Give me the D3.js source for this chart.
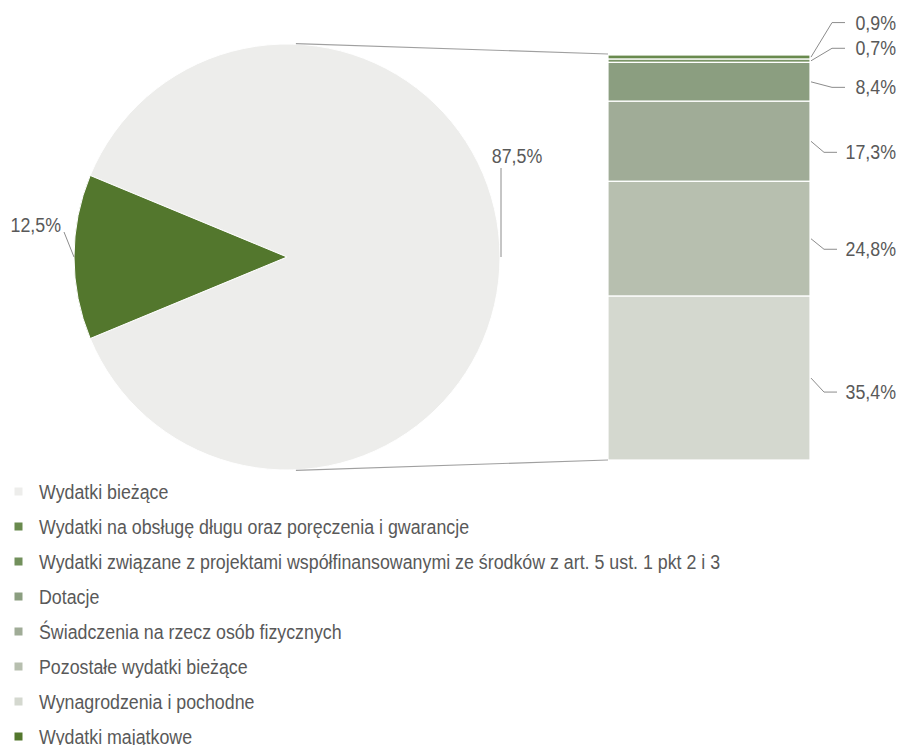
<!DOCTYPE html>
<html>
<head>
<meta charset="utf-8">
<script src="https://cdn.jsdelivr.net/npm/d3@7"></script>
<style>
  html, body { margin: 0; padding: 0; background: #ffffff; }
  svg { display: block; }
  text { font-family: "Liberation Sans", Arial, sans-serif; font-size: 20px; fill: #595959; }
</style>
</head>
<body>
<svg id="chart" width="899" height="745"></svg>
<script>
// Main pie: share of total spending
const pieCategories = ["Wydatki bieżące", "Wydatki majątkowe"];
const pieValues = [87.5, 12.5];
const pieColors = ["#ededeb", "#53772d"];

// Breakdown of current spending (stacked bar, top to bottom)
const barCategories = [
  "Wydatki na obsługę długu oraz poręczenia i gwarancje",
  "Wydatki związane z projektami współfinansowanymi ze środków z art. 5 ust. 1 pkt 2 i 3",
  "Dotacje",
  "Świadczenia na rzecz osób fizycznych",
  "Pozostałe wydatki bieżące",
  "Wynagrodzenia i pochodne"
];
const barValues = [0.9, 0.7, 8.4, 17.3, 24.8, 35.4];
const barColors = ["#698a4e", "#7a9566", "#8b9e80", "#a0ac97", "#b7bfaf", "#d4d8cf"];

// Legend order
const legendLabels = [
  "Wydatki bieżące",
  "Wydatki na obsługę długu oraz poręczenia i gwarancje",
  "Wydatki związane z projektami współfinansowanymi ze środków z art. 5 ust. 1 pkt 2 i 3",
  "Dotacje",
  "Świadczenia na rzecz osób fizycznych",
  "Pozostałe wydatki bieżące",
  "Wynagrodzenia i pochodne",
  "Wydatki majątkowe"
];
const legendColors = ["#ededeb", "#698a4e", "#72905c", "#8b9e80", "#a0ac97", "#b7bfaf", "#d4d8cf", "#53772d"];

const fmt = v => d3.format(".1f")(v).replace(".", ",") + "%";

const svg = d3.select("#chart");

// narrow-looking text: regular sans squeezed horizontally
const SQUEEZE = 0.89;
function label(parent, x, y, str, anchor) {
  return parent.append("text")
    .attr("transform", `translate(${x},${y}) scale(${SQUEEZE},1)`)
    .attr("text-anchor", anchor || "start")
    .text(str);
}

// ---- pie ----
const cx = 287, cy = 257, R = 213;
const deg = Math.PI / 180;
const pie = d3.pie().sort(null)
  .startAngle(-67.5 * deg).endAngle(292.5 * deg);
const arcs = pie(pieValues);
const arc = d3.arc().innerRadius(0).outerRadius(R);

const gPie = svg.append("g").attr("transform", `translate(${cx},${cy})`);
gPie.selectAll("path").data(arcs).join("path")
  .attr("d", arc)
  .attr("fill", (d, i) => pieColors[i])
  .attr("stroke", "#ffffff")
  .attr("stroke-width", 1);

// ---- stacked bar ----
const barX0 = 608, barX1 = 810;
const total = d3.sum(barValues);
const y = d3.scaleLinear().domain([0, total]).range([460, 55]);
// stack from the bottom upwards: last item sits at the bottom
let acc = 0;
const segs = barValues.map((v, i) => ({ v, i })).reverse().map(s => {
  const seg = { ...s, y0: acc, y1: acc + s.v };
  acc += s.v;
  return seg;
}).reverse();

svg.append("g").selectAll("rect").data(segs).join("rect")
  .attr("x", barX0)
  .attr("width", barX1 - barX0)
  .attr("y", d => y(d.y1))
  .attr("height", d => y(d.y0) - y(d.y1))
  .attr("fill", d => barColors[d.i])
  .attr("stroke", "#ffffff")
  .attr("stroke-width", 1.2);

// ---- connector lines between pie and bar ----
const a0 = 2.4 * deg;
const conn = svg.append("g").attr("stroke", "#a0a0a0").attr("stroke-width", 1.2).attr("fill", "none");
conn.append("line")
  .attr("x1", cx + R * Math.sin(a0)).attr("y1", cy - R * Math.cos(a0) - 0.5)
  .attr("x2", barX0).attr("y2", y(total) - 1);
conn.append("line")
  .attr("x1", cx + R * Math.sin(a0)).attr("y1", cy + R * Math.cos(a0) + 0.5)
  .attr("x2", barX0).attr("y2", y(0));

// ---- pie labels ----
const leader = svg.append("g").attr("stroke", "#8c8c8c").attr("stroke-width", 1).attr("fill", "none");
// 87,5% above the right edge of the pie
leader.append("line").attr("x1", cx + R + 1).attr("y1", cy).attr("x2", cx + R + 1).attr("y2", 168);
label(svg, 517, 163, fmt(pieValues[0]), "middle");
// 12,5% left of the pie
leader.append("line").attr("x1", cx - R).attr("y1", cy).attr("x2", 64).attr("y2", 232);
label(svg, 61, 232, fmt(pieValues[1]), "end");

// ---- bar labels ----
// vertical offset of each label from its segment's middle
const labelShift = [-34.5, -12.5, 5.5, 11, 10.5, 14];
segs.forEach((s, k) => {
  const my = (y(s.y0) + y(s.y1)) / 2;
  const ly = my + labelShift[k];
  const elbow = s.v < 10 ? 832 : 824;
  leader.append("polyline")
    .attr("points", `${barX1 + 1},${my} ${elbow},${ly} ${elbow + 13},${ly}`);
  label(svg, 896, ly + 7, fmt(s.v), "end");
});

// ---- legend ----
const ly = d3.scaleLinear().domain([0, legendLabels.length - 1]).range([491.5, 736.5]);
const gLeg = svg.append("g");
legendLabels.forEach((t, i) => {
  gLeg.append("rect").attr("x", 14.5).attr("y", ly(i) - 4).attr("width", 8).attr("height", 8)
    .attr("fill", legendColors[i]);
  label(gLeg, 39, ly(i) + 7, t);
});
</script>
</body>
</html>
